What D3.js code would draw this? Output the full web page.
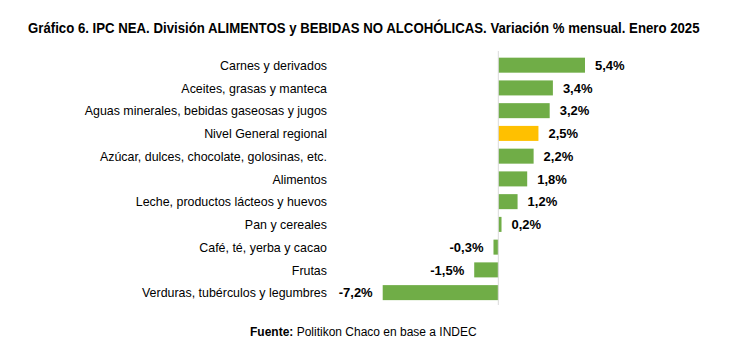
<!DOCTYPE html>
<html><head><meta charset="utf-8">
<script src="https://cdn.jsdelivr.net/npm/d3@7"></script>
<style>body{margin:0;background:#fff}svg{display:block}</style>
</head><body><svg id="c" width="749" height="356"></svg>
<script>
const categories = ["Carnes y derivados","Aceites, grasas y manteca","Aguas minerales, bebidas gaseosas y jugos","Nivel General regional","Azúcar, dulces, chocolate, golosinas, etc.","Alimentos","Leche, productos lácteos y huevos","Pan y cereales","Café, té, yerba y cacao","Frutas","Verduras, tubérculos y legumbres"];
const values = [5.4,3.4,3.2,2.5,2.2,1.8,1.2,0.2,-0.3,-1.5,-7.2];
const highlight = ["Nivel General regional"];

const svg = d3.select("#c");
const x = d3.scaleLinear().domain([-7.2,5.4]).range([382.7,585]);
const y = d3.scaleBand().domain(categories).range([53.8,304]).paddingInner(0.34).paddingOuter(0.17);
const fmt = v => d3.format(".1f")(v).replace(".",",").replace("−","-") + "%";
const font = "'Liberation Sans',Arial,sans-serif";

// fit a text (anchored at start) horizontally into [x0, x0+w] by scaling its group
function fitGroup(g, x0, w){
  const bb = g.node().getBBox();
  const k = w / bb.width;
  g.attr("transform", `translate(${x0},0) scale(${k},1) translate(${-bb.x},0)`);
}

const tg = svg.append("g");
tg.append("text").attr("x",0).attr("y",33)
  .attr("font-family",font).attr("font-weight","bold").attr("font-size",15).attr("fill","#000")
  .text("Gráfico 6. IPC NEA. División ALIMENTOS y BEBIDAS NO ALCOHÓLICAS. Variación % mensual. Enero 2025");
fitGroup(tg, 28, 672);

svg.selectAll("rect.bar").data(categories).join("rect").attr("class","bar")
  .attr("x",(d,i)=>x(Math.min(0,values[i])))
  .attr("width",(d,i)=>Math.abs(x(values[i])-x(0)))
  .attr("y",d=>y(d)).attr("height",y.bandwidth())
  .attr("fill",d=>highlight.includes(d)?"#ffc000":"#70ad47");

svg.append("line").attr("x1",x(0)).attr("x2",x(0)).attr("y1",51).attr("y2",305)
  .attr("stroke","#d9d9d9").attr("stroke-width",1);

const catG = svg.append("g").attr("transform","translate(327,0) scale(0.92,1)");
catG.selectAll("text.cat").data(categories).join("text").attr("class","cat")
  .attr("x",0).attr("y",d=>y(d)+y.bandwidth()/2).attr("dy","0.35em")
  .attr("text-anchor","end").attr("font-family",font).attr("font-size",13.5).attr("fill","#000")
  .text(d=>d);

svg.selectAll("text.val").data(categories).join("text").attr("class","val")
  .attr("x",(d,i)=>values[i]>=0?x(values[i])+10:x(values[i])-10)
  .attr("y",d=>y(d)+y.bandwidth()/2).attr("dy","0.36em")
  .attr("text-anchor",(d,i)=>values[i]>=0?"start":"end")
  .attr("font-family",font).attr("font-weight","bold").attr("font-size",13).attr("fill","#000")
  .text((d,i)=>fmt(values[i]));

const fg = svg.append("g");
const f = fg.append("text").attr("x",0).attr("y",336)
  .attr("font-family",font).attr("font-size",13.5).attr("fill","#000");
f.append("tspan").attr("font-weight","bold").text("Fuente:");
f.append("tspan").text(" Politikon Chaco en base a INDEC");
fitGroup(fg, 250, 227);
</script></body></html>
